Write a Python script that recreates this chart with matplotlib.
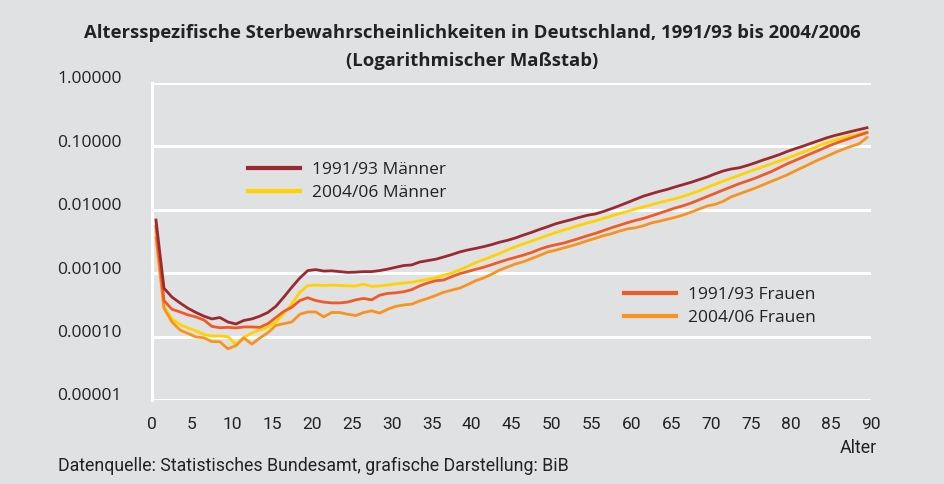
import numpy as np
import matplotlib
matplotlib.use("Agg")
import matplotlib.pyplot as plt
import matplotlib.transforms as mtransforms

plt.rcParams["font.family"] = ["Open Sans", "DejaVu Sans"]

# Sterbewahrscheinlichkeiten q(x), Alter 0..89
ages = np.arange(90)

m_1991 = [
    0.0069, 0.00058, 0.00042, 0.00034, 0.00028, 0.00024, 0.00021, 0.00019, 0.00020, 0.00017,
    0.000158, 0.00018, 0.00019, 0.00021, 0.00024, 0.00030, 0.00042, 0.00060, 0.00084, 0.00110,
    0.00114, 0.00108, 0.00109, 0.00106, 0.00103, 0.00104, 0.00106, 0.00106, 0.00110, 0.00116,
    0.00124, 0.00132, 0.00135, 0.00150, 0.00158, 0.00166, 0.00180, 0.00196, 0.00216, 0.00232,
    0.00246, 0.00262, 0.00282, 0.00308, 0.00330, 0.00360, 0.00400, 0.00440, 0.00490, 0.00540,
    0.00600, 0.00650, 0.00700, 0.00760, 0.00820, 0.00860, 0.00940, 0.01040, 0.01160, 0.01300,
    0.01460, 0.01640, 0.01790, 0.01950, 0.02100, 0.02300, 0.02500, 0.02720, 0.03000, 0.03300,
    0.03700, 0.04100, 0.04400, 0.04600, 0.05000, 0.05500, 0.06100, 0.06700, 0.07400, 0.08300,
    0.09200, 0.10100, 0.11200, 0.12400, 0.13700, 0.14900, 0.16000, 0.17200, 0.18400, 0.19700,
]

m_2004 = [
    0.0045, 0.00030, 0.00019, 0.000155, 0.000137, 0.000123, 0.000108, 0.000102, 0.000102, 0.000100,
    0.000075, 0.000098, 0.000114, 0.000127, 0.000141, 0.000170, 0.000230, 0.000330, 0.00050, 0.00064,
    0.00065, 0.00064, 0.00065, 0.00064, 0.00063, 0.00063, 0.00067, 0.00062, 0.00063, 0.00065,
    0.00068, 0.00070, 0.00072, 0.00076, 0.00080, 0.00085, 0.00093, 0.00100, 0.00113, 0.00128,
    0.00147, 0.00163, 0.00183, 0.00205, 0.00232, 0.00262, 0.00290, 0.00320, 0.00355, 0.00395,
    0.00435, 0.00480, 0.00520, 0.00570, 0.00620, 0.00670, 0.00730, 0.00800, 0.00870, 0.00940,
    0.01030, 0.01110, 0.01200, 0.01300, 0.01400, 0.01500, 0.01630, 0.01800, 0.02000, 0.02260,
    0.02530, 0.02830, 0.03150, 0.03500, 0.03900, 0.04300, 0.04800, 0.05300, 0.05850, 0.06500,
    0.07300, 0.08100, 0.09100, 0.10300, 0.11500, 0.12600, 0.13700, 0.14700, 0.15700, 0.16800,
]

f_1991 = [
    0.0055, 0.00037, 0.00027, 0.000245, 0.00022, 0.000204, 0.000183, 0.000145, 0.000138, 0.000140,
    0.000137, 0.000142, 0.000142, 0.000140, 0.000160, 0.000200, 0.000250, 0.000290, 0.000370, 0.000410,
    0.000370, 0.000350, 0.000340, 0.000340, 0.000350, 0.000380, 0.000400, 0.000380, 0.000450, 0.000480,
    0.000490, 0.000510, 0.000550, 0.000630, 0.000700, 0.000760, 0.000780, 0.000880, 0.000980, 0.001060,
    0.001150, 0.001240, 0.001360, 0.001500, 0.001640, 0.001780, 0.001930, 0.002120, 0.002380, 0.002620,
    0.002800, 0.002980, 0.003250, 0.003550, 0.003900, 0.004250, 0.004700, 0.005200, 0.005700, 0.006250,
    0.006800, 0.007300, 0.008000, 0.008800, 0.009700, 0.010700, 0.011600, 0.012800, 0.014400, 0.016200,
    0.018200, 0.020500, 0.023000, 0.025800, 0.028500, 0.031500, 0.035500, 0.040000, 0.046000, 0.053000,
    0.060000, 0.068000, 0.077000, 0.087000, 0.099000, 0.111000, 0.123000, 0.136000, 0.150000, 0.165000,
]

f_2004 = [
    0.0036, 0.00028, 0.00017, 0.000127, 0.000112, 0.0000985, 0.000096, 0.0000834, 0.000083, 0.000064,
    0.000072, 0.000095, 0.000076, 0.000095, 0.000115, 0.000150, 0.000160, 0.000170, 0.000225, 0.000245,
    0.000245, 0.000205, 0.000240, 0.000240, 0.000225, 0.000215, 0.000240, 0.000255, 0.000235, 0.000270,
    0.000300, 0.000315, 0.000325, 0.000365, 0.000400, 0.000445, 0.000500, 0.000540, 0.000580, 0.000660,
    0.000760, 0.000840, 0.000960, 0.001120, 0.001250, 0.001400, 0.001520, 0.001700, 0.001900, 0.002150,
    0.002300, 0.002500, 0.002700, 0.002950, 0.003250, 0.003550, 0.003900, 0.004200, 0.004600, 0.005000,
    0.005200, 0.005600, 0.006200, 0.006600, 0.007100, 0.007600, 0.008300, 0.009200, 0.010300, 0.011500,
    0.012200, 0.013600, 0.016000, 0.017800, 0.019800, 0.022000, 0.024800, 0.028000, 0.031500, 0.035500,
    0.041000, 0.047000, 0.054000, 0.062000, 0.070000, 0.080000, 0.090000, 0.100000, 0.110000, 0.138000,
]

series_labels = ["1991/93 Männer", "2004/06 Männer", "1991/93 Frauen", "2004/06 Frauen"]
y_ticks = [1e-5, 1e-4, 1e-3, 1e-2, 1e-1, 1.0]
x_ticks = list(range(0, 91, 5))

bg = "#e0e1e3"
txt = "#222222"
colors = ["#9b2a30", "#ffd200", "#ef5a26", "#f8931f"]
narrow = ["Roboto", "DejaVu Sans"]

fig = plt.figure(figsize=(9.44, 4.84), dpi=100, facecolor=bg)
ax = fig.add_axes([152 / 944, 1 - 400 / 484, (871 - 152) / 944, (400 - 83) / 484])
ax.set_facecolor(bg)

zorders = [5, 2, 4, 3]
lines = []
for vals, lab, col, z in zip([m_1991, m_2004, f_1991, f_2004], series_labels, colors, zorders):
    ln, = ax.plot(ages + 0.5, vals, color=col, lw=2.0, label=lab, zorder=z,
                  solid_joinstyle="round")
    lines.append(ln)

ax.set_yscale("log")
ax.set_ylim(1e-5, 1.0)
ax.set_xlim(0, 90)
ax.set_yticks(y_ticks)
ax.set_yticklabels([f"{v:.5f}" for v in y_ticks])
ax.minorticks_off()
ax.set_xticks(x_ticks)
ax.set_xticklabels([str(v) for v in x_ticks])
ax.tick_params(axis="both", length=0, colors=txt)
ax.tick_params(axis="y", pad=22, labelsize=12.5)
ax.tick_params(axis="x", pad=12, labelsize=12.5)
for lbl in ax.get_xticklabels():
    lbl.set_family(narrow)
shift = mtransforms.ScaledTranslation(0, 4 / 72, fig.dpi_scale_trans)
for lbl in ax.get_yticklabels():
    lbl.set_transform(lbl.get_transform() + shift)

ax.grid(axis="y", color="white", lw=2.2, zorder=0)
ax.set_axisbelow(True)
for side in ["top", "right", "bottom"]:
    ax.spines[side].set_visible(False)
ax.spines["left"].set_color("white")
ax.spines["left"].set_linewidth(2.2)

leg_kw = dict(loc="upper left", frameon=False, fontsize=12.5, handlelength=3.0,
              handletextpad=0.7, labelspacing=0.42)
fig.legend(handles=lines[:2], bbox_to_anchor=(232 / 944, 1 - 146 / 484), **leg_kw)
fig.legend(handles=lines[2:], bbox_to_anchor=(608 / 944, 1 - 271 / 484), **leg_kw)
for lg in fig.legends:
    for t in lg.get_texts():
        t.set_color(txt)
    for h in lg.legend_handles:
        h.set_linewidth(3.0)

fig.text(0.5, 1 - 33 / 484, "Altersspezifische Sterbewahrscheinlichkeiten in Deutschland, 1991/93 bis 2004/2006",
         ha="center", va="center", fontsize=13.3, fontweight="bold", color=txt)
fig.text(0.5, 1 - 61 / 484, "(Logarithmischer Maßstab)",
         ha="center", va="center", fontsize=13.3, fontweight="bold", color=txt)
fig.text(877 / 944, 1 - 448 / 484, "Alter", ha="right", va="center", fontsize=12.8,
         family=narrow, color=txt)
fig.text(58 / 944, 1 - 466 / 484, "Datenquelle: Statistisches Bundesamt, grafische Darstellung: BiB",
         ha="left", va="center", fontsize=12.8, family=narrow, color=txt)

fig.savefig("out.png", dpi=100, facecolor=bg)
